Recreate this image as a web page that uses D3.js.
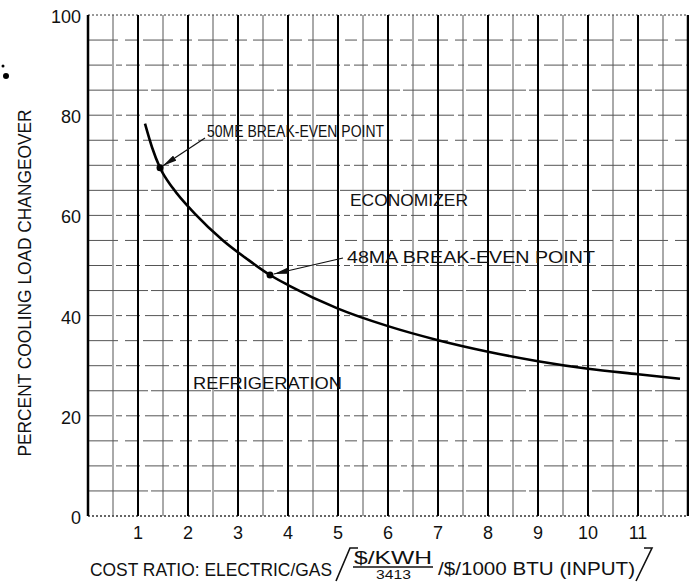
<!DOCTYPE html>
<html>
<head>
<meta charset="utf-8">
<script src="https://cdn.jsdelivr.net/npm/d3@7"></script>
<style>
  html, body { margin: 0; padding: 0; background: #fff; }
  svg { display: block; font-family: "Liberation Sans", Arial, sans-serif; }
</style>
</head>
<body>
<div id="chart"></div>
<script>
// changeover curve
const ratio = [1.14, 1.28, 1.44, 1.7, 2.14, 2.7, 3.18, 3.64, 4, 5, 6, 7, 8, 9, 10, 11, 11.84]
const changeover = [78.3, 73.6, 69.5, 65.4, 60.3, 55.0, 51.3, 48.1, 46.1, 41.4, 37.9, 35.1, 32.8, 30.9, 29.4, 28.3, 27.4]

// break-even points
const pointNames = ["50ME BREAK-EVEN POINT", "48MA BREAK-EVEN POINT"]
const pointRatio = [1.44, 3.64]
const pointLoad = [69.5, 48.1]

const xTicks = [1, 2, 3, 4, 5, 6, 7, 8, 9, 10, 11]
const yTicks = [0, 20, 40, 60, 80, 100]

const width = 689, height = 584

const x = d3.scaleLinear().domain([0, 12]).range([88, 688])
const y = d3.scaleLinear().domain([0, 100]).range([516, 15])

const svg = d3.select("#chart").append("svg")
  .attr("width", width)
  .attr("height", height)
  .attr("viewBox", `0 0 ${width} ${height}`)

svg.append("defs").append("marker")
  .attr("id", "head")
  .attr("viewBox", "0 0 14 6")
  .attr("refX", 14)
  .attr("refY", 3)
  .attr("markerWidth", 14)
  .attr("markerHeight", 6)
  .attr("markerUnits", "userSpaceOnUse")
  .attr("orient", "auto")
  .append("path")
  .attr("d", "M0,0 L14,3 L0,6 Z")
  .attr("fill", "#111")

/* grid */
const grid = svg.append("g")

// horizontal lines every 5 %
const hLines = d3.range(5, 100, 5)
grid.selectAll("line.h")
  .data(hLines)
  .join("line")
  .attr("class", "h")
  .attr("x1", x(0)).attr("x2", x(12))
  .attr("y1", d => y(d)).attr("y2", d => y(d))
  .attr("stroke", "#555")
  .attr("stroke-width", 1)
  .attr("stroke-dasharray", d => d % 10 === 0 ? "24,4,6,4,14,5" : (d % 20 === 5 ? "60,3" : "30,7,12,6"))

// top and bottom borders, dotted
grid.selectAll("line.b")
  .data([0, 100])
  .join("line")
  .attr("class", "b")
  .attr("x1", x(0)).attr("x2", x(12))
  .attr("y1", d => y(d)).attr("y2", d => y(d))
  .attr("stroke", "#333")
  .attr("stroke-width", d => d === 0 ? 1.5 : 1)
  .attr("stroke-dasharray", "2,2")

// vertical lines every 0.5, heavier at whole numbers
const vLines = d3.range(0.5, 12, 0.5)
grid.selectAll("line.v")
  .data(vLines)
  .join("line")
  .attr("class", "v")
  .attr("x1", d => x(d)).attr("x2", d => x(d))
  .attr("y1", y(100)).attr("y2", y(0))
  .attr("stroke", d => Number.isInteger(d) ? "#000" : "#555")
  .attr("stroke-width", d => Number.isInteger(d) ? 2 : 1)

// left and right edges
grid.selectAll("line.e")
  .data([0, 12])
  .join("line")
  .attr("class", "e")
  .attr("x1", d => x(d)).attr("x2", d => x(d))
  .attr("y1", y(100)).attr("y2", y(0))
  .attr("stroke", "#000")
  .attr("stroke-width", 2.5)

/* axes labels */
svg.append("g")
  .selectAll("text")
  .data(xTicks)
  .join("text")
  .attr("x", d => x(d))
  .attr("y", 539)
  .attr("text-anchor", "middle")
  .attr("font-size", 18)
  .attr("fill", "#111")
  .text(d => d)

svg.append("g")
  .selectAll("text")
  .data(yTicks)
  .join("text")
  .attr("x", 81)
  .attr("y", d => y(d) + 8)
  .attr("text-anchor", "end")
  .attr("font-size", 18)
  .attr("fill", "#111")
  .text(d => d)

svg.append("text")
  .attr("transform", "translate(31,283) rotate(-90)")
  .attr("text-anchor", "middle")
  .attr("font-size", 19)
  .attr("textLength", 347)
  .attr("lengthAdjust", "spacingAndGlyphs")
  .attr("fill", "#111")
  .text("PERCENT COOLING LOAD CHANGEOVER")

/* x title with the fraction */
const xt = svg.append("g").attr("fill", "#111").attr("font-size", 18)
xt.append("text").attr("x", 90).attr("y", 576)
  .attr("textLength", 242).attr("lengthAdjust", "spacingAndGlyphs")
  .text("COST RATIO: ELECTRIC/GAS")
xt.append("path")
  .attr("d", "M336,581 L350,548 L358,548 M636,581 L652,548 L644,548")
  .attr("fill", "none").attr("stroke", "#111").attr("stroke-width", 1.6)
xt.append("text").attr("x", 354).attr("y", 564)
  .attr("textLength", 78).attr("lengthAdjust", "spacingAndGlyphs")
  .text("$/KWH")
xt.append("line")
  .attr("x1", 353).attr("x2", 433).attr("y1", 567).attr("y2", 567)
  .attr("stroke", "#111").attr("stroke-width", 1.5)
xt.append("text").attr("x", 376).attr("y", 579)
  .attr("font-size", 13)
  .attr("textLength", 35).attr("lengthAdjust", "spacingAndGlyphs")
  .text("3413")
xt.append("text").attr("x", 438).attr("y", 575)
  .attr("textLength", 197).attr("lengthAdjust", "spacingAndGlyphs")
  .text("/$/1000 BTU (INPUT)")

/* curve */
const line = d3.line()
  .x((d, i) => x(ratio[i]))
  .y((d, i) => y(changeover[i]))
  .curve(d3.curveMonotoneX)

svg.append("path")
  .datum(changeover)
  .attr("fill", "none")
  .attr("stroke", "#000")
  .attr("stroke-width", 2.6)
  .attr("d", line)

svg.append("g")
  .selectAll("circle")
  .data(pointRatio)
  .join("circle")
  .attr("cx", d => x(d))
  .attr("cy", (d, i) => y(pointLoad[i]))
  .attr("r", 3.5)
  .attr("fill", "#000")

/* annotations */
const notes = [
  { tx: 207, ty: 137, len: 177, from: [205, 138], off: [3, -2] },
  { tx: 347, ty: 263, len: 248, from: [343, 258], off: [4, -1] }
]
notes.forEach((n, i) => {
  svg.append("text")
    .attr("x", n.tx).attr("y", n.ty)
    .attr("font-size", 17)
    .attr("textLength", n.len)
    .attr("lengthAdjust", "spacingAndGlyphs")
    .attr("fill", "#111")
    .text(pointNames[i])
  svg.append("line")
    .attr("x1", n.from[0]).attr("y1", n.from[1])
    .attr("x2", x(pointRatio[i]) + n.off[0])
    .attr("y2", y(pointLoad[i]) + n.off[1])
    .attr("stroke", "#111")
    .attr("stroke-width", 1.2)
    .attr("marker-end", "url(#head)")
})

const regions = [
  { label: "ECONOMIZER", x: 350, y: 206, len: 118 },
  { label: "REFRIGERATION", x: 193, y: 389, len: 149 }
]
svg.append("g")
  .selectAll("text")
  .data(regions)
  .join("text")
  .attr("x", d => d.x)
  .attr("y", d => d.y)
  .attr("font-size", 17)
  .attr("textLength", d => d.len)
  .attr("lengthAdjust", "spacingAndGlyphs")
  .attr("fill", "#111")
  .text(d => d.label)

// stray mark at top left of the scan
svg.append("circle").attr("cx", 6).attr("cy", 76).attr("r", 3).attr("fill", "#000")
svg.append("circle").attr("cx", 3).attr("cy", 66).attr("r", 1.5).attr("fill", "#000")
</script>
</body>
</html>
